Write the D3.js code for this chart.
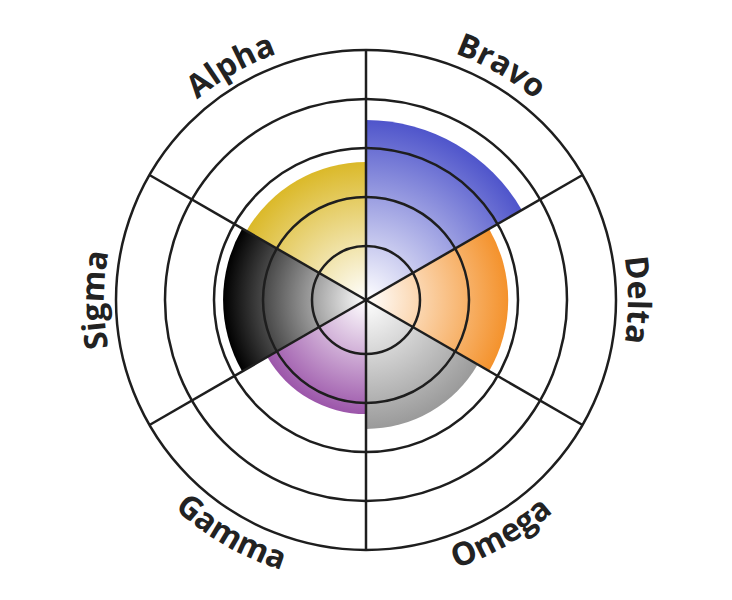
<!DOCTYPE html>
<html>
<head>
<meta charset="utf-8">
<script src="https://cdn.jsdelivr.net/npm/d3@7"></script>
<style>
  html, body { margin: 0; padding: 0; background: #fff; }
  svg { display: block; }
</style>
</head>
<body>
<svg id="chart" width="732" height="600"></svg>
<script>
const categories = ["Bravo", "Delta", "Omega", "Gamma", "Sigma", "Alpha"];
const values = [71.4, 56, 50.6, 44.5, 56.3, 54.3];
const colors = ["#4f55cb", "#f4922c", "#9a9a9a", "#9c56aa", "#000000", "#dbb929"];
const ringTicks = [20, 40, 60, 80, 100];

const W = 732, H = 600, cx = 366, cy = 300;
const svg = d3.select("#chart");
const defs = svg.append("defs");
const g = svg.append("g").attr("transform", `translate(${cx},${cy})`);

const r = d3.scaleLinear().domain([0, 100]).range([5, 250]);
const n = categories.length;
const a = d3.scaleLinear().domain([0, n]).range([0, 2 * Math.PI]);

const arc = d3.arc();

categories.forEach((c, i) => {
  const outer = r(values[i]);
  const grad = defs.append("radialGradient")
    .attr("id", "grad" + i)
    .attr("gradientUnits", "userSpaceOnUse")
    .attr("cx", 0).attr("cy", 0).attr("fx", 0).attr("fy", 0)
    .attr("r", outer);
  grad.append("stop").attr("offset", "0%").attr("stop-color", "#ffffff");
  grad.append("stop").attr("offset", "100%").attr("stop-color", colors[i]);
  g.append("path")
    .attr("d", arc({innerRadius: 0, outerRadius: outer, startAngle: a(i), endAngle: a(i + 1)}))
    .attr("fill", `url(#grad${i})`);
});

// rings
g.selectAll("circle.ring").data(ringTicks).join("circle")
  .attr("class", "ring")
  .attr("r", d => r(d))
  .attr("fill", "none")
  .attr("stroke", "#1e1e1e")
  .attr("stroke-width", 2.5);

// radial lines
g.selectAll("line.spoke").data(d3.range(n)).join("line")
  .attr("class", "spoke")
  .attr("x1", 0).attr("y1", 0)
  .attr("x2", d => r(100) * Math.sin(a(d)))
  .attr("y2", d => -r(100) * Math.cos(a(d)))
  .attr("stroke", "#1e1e1e")
  .attr("stroke-width", 2.5);

// labels
const rLab = 262, rLabFlip = 283;
categories.forEach((c, i) => {
  const s = a(i), e = a(i + 1);
  const mid = (s + e) / 2;
  const flip = mid > Math.PI / 2 + 0.01 && mid < 3 * Math.PI / 2 - 0.01;
  const p = d3.path();
  if (!flip) {
    p.arc(0, 0, rLab, s - Math.PI / 2, e - Math.PI / 2, false);
  } else {
    p.arc(0, 0, rLabFlip, e - Math.PI / 2, s - Math.PI / 2, true);
  }
  defs.append("path").attr("id", "lab" + i).attr("d", p.toString());
  g.append("text")
    .attr("font-family", "'Open Sans', sans-serif")
    .attr("font-weight", 700)
    .attr("font-size", 32)
    .attr("fill", "#222")
    .append("textPath")
    .attr("href", "#lab" + i)
    .attr("startOffset", "50%")
    .attr("text-anchor", "middle")
    .text(c);
});
</script>
</body>
</html>
